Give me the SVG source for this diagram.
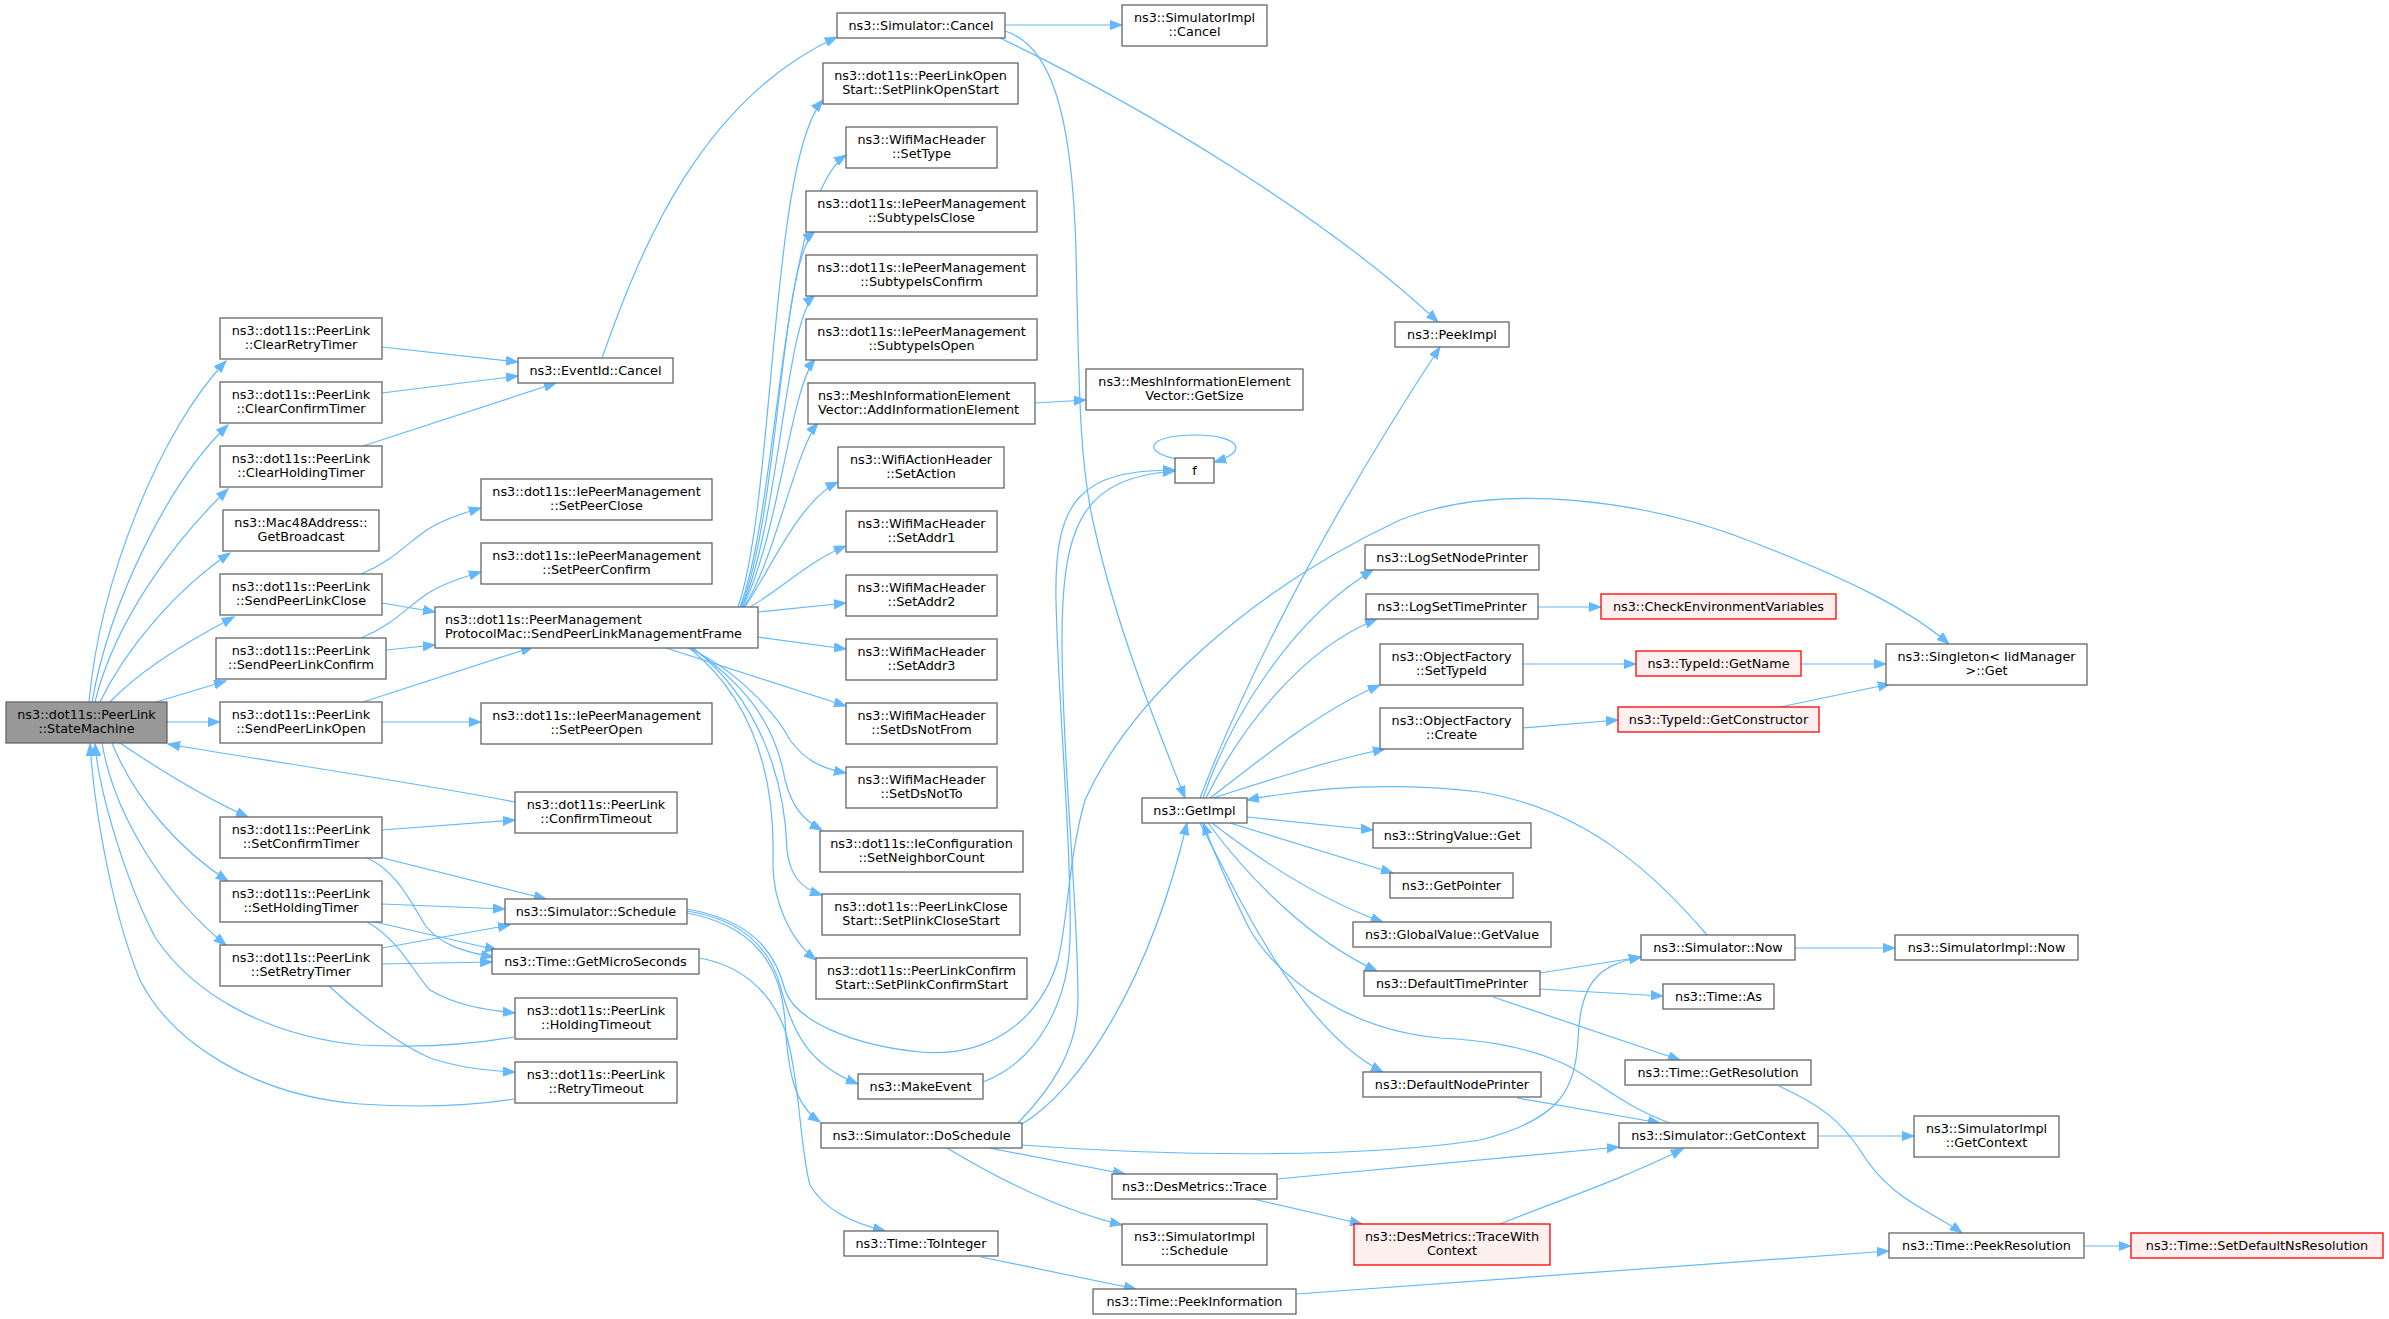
<svg xmlns="http://www.w3.org/2000/svg" width="2389" height="1319" viewBox="0 0 2389 1319">
<defs>
<marker id="ah" markerWidth="13" markerHeight="10" refX="12" refY="5" orient="auto" markerUnits="userSpaceOnUse"><path d="M0,0.5 L12,5 L0,9.5 z" fill="#63b8ff" stroke="#63b8ff" stroke-width="1"/></marker>
</defs>
<style>
.node rect{fill:#ffffff;stroke:#666666;stroke-width:1.3}
.node rect.gray{fill:#999999;stroke:#666666}
.node rect.red{fill:#fff0f0;stroke:#ff0000}
.node text{font-family:"DejaVu Sans","Liberation Sans",sans-serif;font-size:12.8px;fill:#000000;text-anchor:middle}
.node text.l{text-anchor:start}
#edges path{fill:none;stroke:#63b8ff;stroke-width:1.2;marker-end:url(#ah)}
</style>
<rect width="2389" height="1319" fill="#ffffff"/>
<g id="edges">
<path d="M89,702 C100,580 160,430 226,361"/>
<path d="M92,702 C110,600 170,480 228,425"/>
<path d="M95,702 C115,620 175,540 228,489"/>
<path d="M100,702 C125,650 175,590 230,553"/>
<path d="M110,702 C140,670 190,640 234,617"/>
<path d="M156,702 L226,681"/>
<path d="M167,722 L220,722"/>
<path d="M120,743 C160,770 210,800 248,817"/>
<path d="M112,743 C135,800 180,850 228,881"/>
<path d="M102,743 C115,820 170,900 226,945"/>
<path d="M515,802 C400,780 260,760 168,744"/>
<path d="M514,1037 C470,1045 420,1048 360,1045 C260,1035 190,990 155,937 C130,890 100,800 95,744"/>
<path d="M514,1099 C470,1106 420,1108 360,1104 C250,1095 170,1040 140,980 C115,920 95,820 90,744"/>
<path d="M382,347 L518,362"/>
<path d="M382,393 L518,376"/>
<path d="M363,446 L556,383"/>
<path d="M361,574 C395,560 410,540 430,528 C445,519 460,514 481,508"/>
<path d="M382,603 L435,612"/>
<path d="M361,638 C395,624 410,604 430,592 C445,583 460,578 481,572"/>
<path d="M386,650 L435,645"/>
<path d="M363,702 L533,647"/>
<path d="M382,722 L481,722"/>
<path d="M382,830 L515,820"/>
<path d="M383,858 L546,899"/>
<path d="M367,858 C395,870 410,900 425,925 C440,945 465,952 493,957"/>
<path d="M382,904 L505,909"/>
<path d="M375,922 L497,950"/>
<path d="M367,922 C400,940 415,975 430,990 C455,1005 485,1010 515,1013"/>
<path d="M382,948 L510,925"/>
<path d="M382,964 L492,962"/>
<path d="M329,986 C360,1015 400,1045 430,1058 C460,1068 490,1071 515,1072"/>
<path d="M602,358 C640,250 700,100 837,37"/>
<path d="M1005,25 L1122,25"/>
<path d="M1000,38 C1150,110 1330,220 1438,322"/>
<path d="M1005,31 C1050,45 1072,110 1076,250 C1079,400 1080,470 1095,530 C1115,620 1150,710 1185,798"/>
<path d="M738,607 C775,500 770,160 823,100"/>
<path d="M740,607 C780,500 780,200 846,155"/>
<path d="M741,607 C780,510 780,260 815,231"/>
<path d="M742,607 C780,520 785,320 815,295"/>
<path d="M743,607 C780,530 790,390 815,359"/>
<path d="M744,607 C775,560 795,450 818,423"/>
<path d="M745,607 C770,570 800,500 838,482"/>
<path d="M750,607 C780,590 810,560 846,546"/>
<path d="M758,612 L846,603"/>
<path d="M758,637 L846,649"/>
<path d="M663,647 L846,706"/>
<path d="M686,647 C740,670 780,720 790,740 C805,760 820,768 846,773"/>
<path d="M690,647 C740,680 775,720 785,780 C792,805 800,818 822,830"/>
<path d="M692,647 C760,700 785,780 787,850 C790,875 800,888 822,895"/>
<path d="M688,647 C755,700 775,780 773,860 C772,900 790,940 816,960"/>
<path d="M1035,403 L1086,400"/>
<path d="M687,911 C745,920 770,950 780,985 C793,1035 810,1065 858,1084"/>
<path d="M687,913 C750,925 780,960 785,1020 C788,1075 795,1105 820,1122"/>
<path d="M687,909 C750,920 775,950 785,990 C795,1020 850,1045 920,1052 C990,1058 1040,1020 1058,960 C1068,920 1068,860 1085,800 C1130,700 1250,590 1400,520 C1500,480 1650,500 1760,545 C1850,580 1910,610 1949,644"/>
<path d="M983,1082 C1040,1060 1068,1000 1070,940 C1072,850 1058,700 1056,600 C1054,500 1080,470 1175,470"/>
<path d="M1018,1123 C1050,1090 1078,1050 1078,1000 C1078,900 1062,760 1062,640 C1062,520 1085,478 1175,471"/>
<path d="M1022,1124 C1080,1090 1150,980 1187,823"/>
<path d="M1177,459 C1140,452 1148,435 1195,435 C1240,435 1250,452 1214,462"/>
<path d="M1200,798 C1230,720 1300,560 1440,347"/>
<path d="M1203,798 C1230,720 1290,620 1373,570"/>
<path d="M1206,798 C1240,730 1300,650 1377,619"/>
<path d="M1210,798 C1260,760 1320,710 1380,685"/>
<path d="M1213,798 C1270,780 1330,760 1385,749"/>
<path d="M1247,817 L1373,830"/>
<path d="M1230,823 L1393,873"/>
<path d="M1212,823 C1260,860 1320,900 1383,922"/>
<path d="M1208,823 C1250,880 1310,940 1377,971"/>
<path d="M1200,823 C1240,900 1300,1030 1383,1072"/>
<path d="M1707,935 C1660,880 1590,810 1480,792 C1380,780 1300,790 1247,800"/>
<path d="M1670,1123 C1620,1105 1590,1075 1560,1062 C1520,1045 1480,1040 1440,1038 C1350,1030 1280,980 1250,930 C1230,890 1215,855 1203,823"/>
<path d="M1540,973 L1641,957"/>
<path d="M1540,989 L1663,996"/>
<path d="M1493,997 L1680,1060"/>
<path d="M1517,1098 L1660,1123"/>
<path d="M1022,1145 C1150,1155 1350,1160 1480,1140 C1560,1120 1575,1090 1578,1040 C1580,980 1600,965 1641,957"/>
<path d="M989,1148 L1125,1174"/>
<path d="M947,1148 C1000,1180 1060,1210 1122,1225"/>
<path d="M1277,1179 L1619,1147"/>
<path d="M1253,1199 L1362,1224"/>
<path d="M1500,1224 C1560,1200 1620,1180 1683,1149"/>
<path d="M981,1257 L1136,1289"/>
<path d="M699,958 C740,965 770,990 785,1030 C800,1080 800,1150 810,1185 C825,1210 850,1222 885,1231"/>
<path d="M1296,1294 L1889,1251"/>
<path d="M1779,1086 C1820,1105 1840,1120 1860,1150 C1890,1200 1930,1210 1962,1233"/>
<path d="M2084,1246 L2131,1246"/>
<path d="M1795,948 L1895,948"/>
<path d="M1818,1136 L1914,1136"/>
<path d="M1538,607 L1601,607"/>
<path d="M1523,664 L1636,664"/>
<path d="M1523,728 L1618,720"/>
<path d="M1801,664 L1886,664"/>
<path d="M1780,707 L1890,684"/>
</g>
<g id="n1" class="node"><rect class="gray" x="6" y="702" width="161" height="41"/><text x="86.5" y="719">ns3::dot11s::PeerLink</text><text x="86.5" y="733">::StateMachine</text></g>
<g id="n2" class="node"><rect x="220" y="318" width="162" height="41"/><text x="301" y="335">ns3::dot11s::PeerLink</text><text x="301" y="349">::ClearRetryTimer</text></g>
<g id="n3" class="node"><rect x="220" y="382" width="162" height="41"/><text x="301" y="399">ns3::dot11s::PeerLink</text><text x="301" y="413">::ClearConfirmTimer</text></g>
<g id="n4" class="node"><rect x="220" y="446" width="162" height="41"/><text x="301" y="463">ns3::dot11s::PeerLink</text><text x="301" y="477">::ClearHoldingTimer</text></g>
<g id="n5" class="node"><rect x="223" y="510" width="156" height="41"/><text x="301" y="527">ns3::Mac48Address::</text><text x="301" y="541">GetBroadcast</text></g>
<g id="n6" class="node"><rect x="220" y="574" width="162" height="41"/><text x="301" y="591">ns3::dot11s::PeerLink</text><text x="301" y="605">::SendPeerLinkClose</text></g>
<g id="n7" class="node"><rect x="216" y="638" width="170" height="41"/><text x="301" y="655">ns3::dot11s::PeerLink</text><text x="301" y="669">::SendPeerLinkConfirm</text></g>
<g id="n8" class="node"><rect x="220" y="702" width="162" height="41"/><text x="301" y="719">ns3::dot11s::PeerLink</text><text x="301" y="733">::SendPeerLinkOpen</text></g>
<g id="n9" class="node"><rect x="220" y="817" width="162" height="41"/><text x="301" y="834">ns3::dot11s::PeerLink</text><text x="301" y="848">::SetConfirmTimer</text></g>
<g id="n10" class="node"><rect x="220" y="881" width="162" height="41"/><text x="301" y="898">ns3::dot11s::PeerLink</text><text x="301" y="912">::SetHoldingTimer</text></g>
<g id="n11" class="node"><rect x="220" y="945" width="162" height="41"/><text x="301" y="962">ns3::dot11s::PeerLink</text><text x="301" y="976">::SetRetryTimer</text></g>
<g id="n12" class="node"><rect x="518" y="358" width="155" height="25"/><text x="595.5" y="375">ns3::EventId::Cancel</text></g>
<g id="n13" class="node"><rect x="481" y="479" width="231" height="41"/><text x="596.5" y="496">ns3::dot11s::IePeerManagement</text><text x="596.5" y="510">::SetPeerClose</text></g>
<g id="n14" class="node"><rect x="481" y="543" width="231" height="41"/><text x="596.5" y="560">ns3::dot11s::IePeerManagement</text><text x="596.5" y="574">::SetPeerConfirm</text></g>
<g id="n15" class="node"><rect x="435" y="607" width="323" height="41"/><text class="l" x="445" y="624">ns3::dot11s::PeerManagement</text><text class="l" x="445" y="638">ProtocolMac::SendPeerLinkManagementFrame</text></g>
<g id="n16" class="node"><rect x="481" y="703" width="231" height="41"/><text x="596.5" y="720">ns3::dot11s::IePeerManagement</text><text x="596.5" y="734">::SetPeerOpen</text></g>
<g id="n17" class="node"><rect x="515" y="792" width="162" height="41"/><text x="596" y="809">ns3::dot11s::PeerLink</text><text x="596" y="823">::ConfirmTimeout</text></g>
<g id="n18" class="node"><rect x="505" y="899" width="182" height="25"/><text x="596" y="916">ns3::Simulator::Schedule</text></g>
<g id="n19" class="node"><rect x="492" y="949" width="207" height="25"/><text x="595.5" y="966">ns3::Time::GetMicroSeconds</text></g>
<g id="n20" class="node"><rect x="515" y="998" width="162" height="41"/><text x="596" y="1015">ns3::dot11s::PeerLink</text><text x="596" y="1029">::HoldingTimeout</text></g>
<g id="n21" class="node"><rect x="515" y="1062" width="162" height="41"/><text x="596" y="1079">ns3::dot11s::PeerLink</text><text x="596" y="1093">::RetryTimeout</text></g>
<g id="n22" class="node"><rect x="837" y="13" width="168" height="25"/><text x="921" y="30">ns3::Simulator::Cancel</text></g>
<g id="n23" class="node"><rect x="823" y="63" width="195" height="41"/><text x="920.5" y="80">ns3::dot11s::PeerLinkOpen</text><text x="920.5" y="94">Start::SetPlinkOpenStart</text></g>
<g id="n24" class="node"><rect x="846" y="127" width="151" height="41"/><text x="921.5" y="144">ns3::WifiMacHeader</text><text x="921.5" y="158">::SetType</text></g>
<g id="n25" class="node"><rect x="806" y="191" width="231" height="41"/><text x="921.5" y="208">ns3::dot11s::IePeerManagement</text><text x="921.5" y="222">::SubtypeIsClose</text></g>
<g id="n26" class="node"><rect x="806" y="255" width="231" height="41"/><text x="921.5" y="272">ns3::dot11s::IePeerManagement</text><text x="921.5" y="286">::SubtypeIsConfirm</text></g>
<g id="n27" class="node"><rect x="806" y="319" width="231" height="41"/><text x="921.5" y="336">ns3::dot11s::IePeerManagement</text><text x="921.5" y="350">::SubtypeIsOpen</text></g>
<g id="n28" class="node"><rect x="808" y="383" width="227" height="41"/><text class="l" x="818" y="400">ns3::MeshInformationElement</text><text class="l" x="818" y="414">Vector::AddInformationElement</text></g>
<g id="n29" class="node"><rect x="838" y="447" width="166" height="41"/><text x="921" y="464">ns3::WifiActionHeader</text><text x="921" y="478">::SetAction</text></g>
<g id="n30" class="node"><rect x="846" y="511" width="151" height="41"/><text x="921.5" y="528">ns3::WifiMacHeader</text><text x="921.5" y="542">::SetAddr1</text></g>
<g id="n31" class="node"><rect x="846" y="575" width="151" height="41"/><text x="921.5" y="592">ns3::WifiMacHeader</text><text x="921.5" y="606">::SetAddr2</text></g>
<g id="n32" class="node"><rect x="846" y="639" width="151" height="41"/><text x="921.5" y="656">ns3::WifiMacHeader</text><text x="921.5" y="670">::SetAddr3</text></g>
<g id="n33" class="node"><rect x="846" y="703" width="151" height="41"/><text x="921.5" y="720">ns3::WifiMacHeader</text><text x="921.5" y="734">::SetDsNotFrom</text></g>
<g id="n34" class="node"><rect x="846" y="767" width="151" height="41"/><text x="921.5" y="784">ns3::WifiMacHeader</text><text x="921.5" y="798">::SetDsNotTo</text></g>
<g id="n35" class="node"><rect x="820" y="831" width="203" height="41"/><text x="921.5" y="848">ns3::dot11s::IeConfiguration</text><text x="921.5" y="862">::SetNeighborCount</text></g>
<g id="n36" class="node"><rect x="822" y="894" width="198" height="41"/><text x="921" y="911">ns3::dot11s::PeerLinkClose</text><text x="921" y="925">Start::SetPlinkCloseStart</text></g>
<g id="n37" class="node"><rect x="816" y="958" width="211" height="41"/><text x="921.5" y="975">ns3::dot11s::PeerLinkConfirm</text><text x="921.5" y="989">Start::SetPlinkConfirmStart</text></g>
<g id="n38" class="node"><rect x="858" y="1074" width="125" height="25"/><text x="920.5" y="1091">ns3::MakeEvent</text></g>
<g id="n39" class="node"><rect x="821" y="1123" width="201" height="25"/><text x="921.5" y="1140">ns3::Simulator::DoSchedule</text></g>
<g id="n40" class="node"><rect x="844" y="1231" width="154" height="25"/><text x="921" y="1248">ns3::Time::ToInteger</text></g>
<g id="n41" class="node"><rect x="1122" y="5" width="145" height="41"/><text x="1194.5" y="22">ns3::SimulatorImpl</text><text x="1194.5" y="36">::Cancel</text></g>
<g id="n42" class="node"><rect x="1086" y="369" width="217" height="41"/><text x="1194.5" y="386">ns3::MeshInformationElement</text><text x="1194.5" y="400">Vector::GetSize</text></g>
<g id="n43" class="node"><rect x="1175" y="458" width="39" height="25"/><text x="1194.5" y="475">f</text></g>
<g id="n44" class="node"><rect x="1142" y="798" width="105" height="25"/><text x="1194.5" y="815">ns3::GetImpl</text></g>
<g id="n45" class="node"><rect x="1112" y="1174" width="165" height="25"/><text x="1194.5" y="1191">ns3::DesMetrics::Trace</text></g>
<g id="n46" class="node"><rect x="1122" y="1224" width="145" height="41"/><text x="1194.5" y="1241">ns3::SimulatorImpl</text><text x="1194.5" y="1255">::Schedule</text></g>
<g id="n47" class="node"><rect x="1093" y="1289" width="203" height="25"/><text x="1194.5" y="1306">ns3::Time::PeekInformation</text></g>
<g id="n48" class="node"><rect x="1395" y="322" width="114" height="25"/><text x="1452" y="339">ns3::PeekImpl</text></g>
<g id="n49" class="node"><rect x="1365" y="545" width="174" height="25"/><text x="1452" y="562">ns3::LogSetNodePrinter</text></g>
<g id="n50" class="node"><rect x="1366" y="594" width="172" height="25"/><text x="1452" y="611">ns3::LogSetTimePrinter</text></g>
<g id="n51" class="node"><rect x="1380" y="644" width="143" height="41"/><text x="1451.5" y="661">ns3::ObjectFactory</text><text x="1451.5" y="675">::SetTypeId</text></g>
<g id="n52" class="node"><rect x="1380" y="708" width="143" height="41"/><text x="1451.5" y="725">ns3::ObjectFactory</text><text x="1451.5" y="739">::Create</text></g>
<g id="n53" class="node"><rect x="1373" y="823" width="158" height="25"/><text x="1452" y="840">ns3::StringValue::Get</text></g>
<g id="n54" class="node"><rect x="1390" y="873" width="123" height="25"/><text x="1451.5" y="890">ns3::GetPointer</text></g>
<g id="n55" class="node"><rect x="1353" y="922" width="198" height="25"/><text x="1452" y="939">ns3::GlobalValue::GetValue</text></g>
<g id="n56" class="node"><rect x="1364" y="971" width="176" height="25"/><text x="1452" y="988">ns3::DefaultTimePrinter</text></g>
<g id="n57" class="node"><rect x="1363" y="1072" width="178" height="25"/><text x="1452" y="1089">ns3::DefaultNodePrinter</text></g>
<g id="n58" class="node"><rect class="red" x="1354" y="1224" width="196" height="41"/><text x="1452" y="1241">ns3::DesMetrics::TraceWith</text><text x="1452" y="1255">Context</text></g>
<g id="n59" class="node"><rect class="red" x="1601" y="594" width="235" height="25"/><text x="1718.5" y="611">ns3::CheckEnvironmentVariables</text></g>
<g id="n60" class="node"><rect class="red" x="1636" y="651" width="165" height="25"/><text x="1718.5" y="668">ns3::TypeId::GetName</text></g>
<g id="n61" class="node"><rect class="red" x="1618" y="707" width="201" height="25"/><text x="1718.5" y="724">ns3::TypeId::GetConstructor</text></g>
<g id="n62" class="node"><rect x="1641" y="935" width="154" height="25"/><text x="1718" y="952">ns3::Simulator::Now</text></g>
<g id="n63" class="node"><rect x="1663" y="984" width="111" height="25"/><text x="1718.5" y="1001">ns3::Time::As</text></g>
<g id="n64" class="node"><rect x="1625" y="1060" width="186" height="25"/><text x="1718" y="1077">ns3::Time::GetResolution</text></g>
<g id="n65" class="node"><rect x="1619" y="1123" width="199" height="25"/><text x="1718.5" y="1140">ns3::Simulator::GetContext</text></g>
<g id="n66" class="node"><rect x="1886" y="644" width="201" height="41"/><text x="1986.5" y="661">ns3::Singleton&lt; IidManager</text><text x="1986.5" y="675">&gt;::Get</text></g>
<g id="n67" class="node"><rect x="1895" y="935" width="183" height="25"/><text x="1986.5" y="952">ns3::SimulatorImpl::Now</text></g>
<g id="n68" class="node"><rect x="1914" y="1116" width="145" height="41"/><text x="1986.5" y="1133">ns3::SimulatorImpl</text><text x="1986.5" y="1147">::GetContext</text></g>
<g id="n69" class="node"><rect x="1889" y="1233" width="195" height="25"/><text x="1986.5" y="1250">ns3::Time::PeekResolution</text></g>
<g id="n70" class="node"><rect class="red" x="2131" y="1233" width="252" height="25"/><text x="2257" y="1250">ns3::Time::SetDefaultNsResolution</text></g>
</svg>
